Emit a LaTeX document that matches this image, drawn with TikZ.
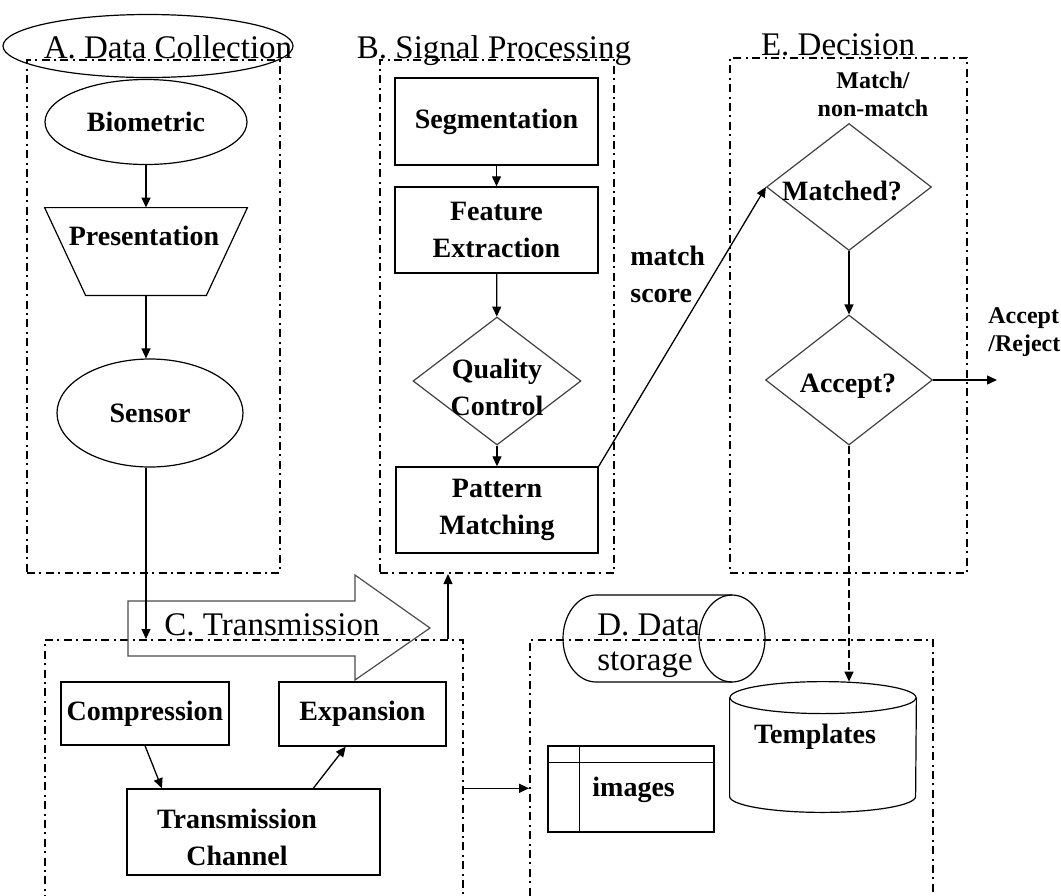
\documentclass[tikz,border=0pt]{standalone}
\usepackage{fontspec}
\setmainfont{Liberation Serif}
\usetikzlibrary{arrows.meta}
\usetikzlibrary{shapes.geometric}
\usetikzlibrary{calc}

\begin{document}
\begin{tikzpicture}[x=0.5pt, y=-0.5pt, >={Triangle[length=5pt,width=4.5pt]},
    grp/.style={draw, line width=1pt, dash pattern=on 4pt off 2.2pt on 1pt off 2.2pt, inner sep=0},
    blk/.style={draw, line width=0.7pt, inner sep=0, align=center, font=\bfseries\fontsize{14}{18.5}\selectfont},
    dia/.style={draw=black!75, diamond, line width=0.6pt, inner sep=0},
    oval/.style={draw, ellipse, line width=0.6pt, inner sep=0, font=\bfseries\fontsize{14}{18.5}\selectfont},
    txt/.style={inner sep=0, align=center, font=\bfseries\fontsize{14}{18.5}\selectfont},
    small/.style={inner sep=0, align=center, font=\bfseries\fontsize{12}{14}\selectfont},
    hdr/.style={inner sep=0, anchor=base, font=\fontsize{16.5}{19}\selectfont},
    conn/.style={line width=0.65pt, ->}]

        \useasboundingbox (0,0) rectangle (1061,895);

        % group frames
        \node[grp, minimum width=126.5pt, minimum height=256.5pt] (boxA) at (153.5,316.5) {};
        \node[grp, minimum width=117pt, minimum height=256.5pt] (boxB) at (497,316.5) {};
        \node[grp, minimum width=118.5pt, minimum height=257.5pt] (boxE) at (848.5,315.5) {};
        \node[grp, minimum width=209pt, minimum height=150pt] (boxC) at (254,790) {};
        \node[grp, minimum width=201.5pt, minimum height=150pt] (boxD) at (731.5,790) {};

        \node[draw, ellipse, line width=0.6pt, minimum width=145pt, minimum height=31.5pt] (ovA) at (148,46) {};
        \node[hdr] (hA) at (168,58) {A. Data Collection};
        \node[hdr] (hB) at (494,58) {B. Signal Processing};
        \node[hdr] (hE) at (838,55) {E. Decision};

        % A. data collection
        \node[oval, minimum width=101pt, minimum height=42.5pt] (bio) at (146,122) {Biometric};
        \node[inner sep=0, minimum width=101pt, minimum height=43.5pt] (pres) at (146,251.5) {};
        \draw[line width=0.6pt] (pres.north west) -- (pres.north east) -- ([xshift=-20.5pt]pres.south east)
            -- ([xshift=20.5pt]pres.south west) -- cycle;
        \node[txt] (prest) at (144,236) {Presentation};
        \node[oval, minimum width=93pt, minimum height=54pt] (sens) at (150,413) {Sensor};

        % B. signal processing
        \node[blk, minimum width=101.5pt, minimum height=43.5pt] (seg) at (496.5,121.5) {Segmentation};
        \node[blk, minimum width=101.5pt, minimum height=43pt] (feat) at (496.5,230) {Feature\\Extraction};
        \node[dia, minimum width=84pt, minimum height=64pt] (qc) at (497,381) {};
        \node[txt] (qct) at (497,387) {Quality\\Control};
        \node[blk, minimum width=101pt, minimum height=43pt] (pm) at (497,510) {Pattern\\Matching};
        \node[txt, align=left, anchor=west] (msc) at (630,274) {match\\score};

        % E. decision
        \node[small] (mnm) at (873,94) {Match/\\non-match};
        \node[dia, minimum width=82.5pt, minimum height=63.5pt] (mat) at (849,187) {};
        \node[txt] (matt) at (842,191) {Matched?};
        \node[dia, minimum width=83.5pt, minimum height=65pt] (acc) at (849,380) {};
        \node[txt] (acct) at (848,386) {Accept?};
        \coordinate (out) at (997,380);
        \node[small, align=left, anchor=west] (ar) at (988,332) {Accept\\/Reject};

        % C. transmission
        \draw[line width=0.6pt, draw=black!70] (128,601) -- (355,601) -- (355,575) -- (430,628)
            -- (355,680) -- (355,656) -- (128,656) -- cycle;
        \node[hdr] (hC) at (272,635) {C. Transmission};
        \node[blk, minimum width=84pt, minimum height=31.5pt] (comp) at (145,713.5) {Compression};
        \node[blk, minimum width=83.5pt, minimum height=32pt] (exp) at (362.5,714) {Expansion};
        \node[blk, minimum width=126.5pt, minimum height=43pt] (chan) at (253.5,832) {};
        \node[txt] (chant) at (237,837) {Transmission\\Channel};

        % D. data storage
        \draw[line width=0.6pt] (732,595) -- (596,595) arc[start angle=90, end angle=270, x radius=16.5pt, y radius=21.75pt]
            -- (732,682);
        \draw[line width=0.6pt] (732,638.5) ellipse [x radius=16.5pt, y radius=21.75pt];
        \node[hdr, anchor=base west] (hD) at (597,635) {D. Data};
        \node[hdr, anchor=base west] (hD2) at (597,670) {storage};

        \node[draw, line width=0.6pt, minimum width=83pt, minimum height=43pt, inner sep=0] (img) at (631,789) {};
        \draw[line width=0.6pt] ([yshift=-8.5pt]img.north west) -- ([yshift=-8.5pt]img.north east);
        \draw[line width=0.6pt] ([xshift=16pt]img.north west) -- ([xshift=16pt]img.south west);
        \node[txt, anchor=west] (imgt) at (592,790) {images};

        \node[inner sep=0, minimum width=93pt, minimum height=65pt] (tmpl) at (823,747) {};
        \draw[line width=0.6pt] ([yshift=-8pt]tmpl.north west) -- ([yshift=8pt]tmpl.south west)
            arc[start angle=180, end angle=360, x radius=46.5pt, y radius=8pt] -- ([yshift=-8pt]tmpl.north east);
        \draw[line width=0.6pt] ([yshift=-8pt]tmpl.north) ellipse [x radius=46.5pt, y radius=8pt];
        \node[txt] (tmplt) at (815,737) {Templates};

        % connectors
        \draw[conn] (bio) -- (pres.north);
        \draw[conn] (pres.south) -- (pres.south |- sens.north);
        \draw[conn] (pres.south |- sens.south) -- (pres.south |- boxC.north);
        \draw[conn] (seg) -- (feat);
        \draw[conn] (feat) -- (qc);
        \draw[conn] (qc) -- (pm);
        \draw[conn] (pm.north east) -- (mat.west);
        \draw[conn] (mat) -- (acc);
        \draw[conn] (acc.east) -- (out);
        \draw[conn, dash pattern=on 4pt off 2pt] (acc.south) -- (acc.south |- tmpl.north);
        \draw[conn] (comp.south) -- ($(chan.north west)!0.14!(chan.north east)$);
        \draw[conn] ($(chan.north west)!0.735!(chan.north east)$) -- ($(exp.south west)!0.4!(exp.south east)$);
        \draw[conn] ([xshift=-8pt]boxC.north east) -- ([xshift=-8pt]boxC.north east |- boxB.south);
        \draw[conn] (boxC.east |- chan.north) -- (boxD.west |- chan.north);
\end{tikzpicture}
\end{document}
